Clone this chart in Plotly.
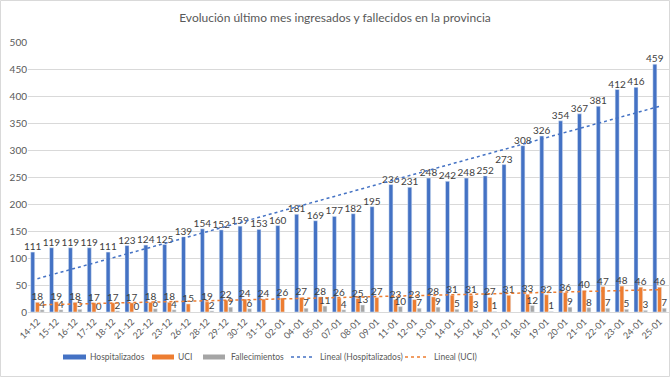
import numpy as np
import plotly.graph_objects as go

categories = ["14-12","15-12","16-12","17-12","18-12","21-12","22-12","23-12","26-12","28-12",
              "29-12","30-12","31-12","02-01","04-01","05-01","07-01","08-01","09-01","11-01",
              "12-01","13-01","14-01","15-01","16-01","17-01","18-01","19-01","20-01","21-01",
              "22-01","23-01","24-01","25-01"]
hospitalizados = [111,119,119,119,111,123,124,125,139,154,152,159,153,160,181,169,177,182,195,236,
                  231,248,242,248,252,273,308,326,354,367,381,412,416,459]
uci = [18,19,18,17,17,17,18,18,15,19,22,24,24,26,27,28,26,25,27,23,
       23,28,31,31,27,31,33,32,36,40,47,48,46,46]
fallecimientos = [4,4,5,0,2,0,6,4,None,2,9,6,None,None,7,11,4,13,None,10,
                  7,9,5,3,1,None,12,1,9,8,7,5,3,7]
legend_labels = ["Hospitalizados", "UCI", "Fallecimientos", "Lineal (Hospitalizados)", "Lineal (UCI)"]

idx = np.arange(len(categories))
ph = np.polyfit(idx, hospitalizados, 1)
pu = np.polyfit(idx, uci, 1)
trend_h = np.polyval(ph, idx)
trend_u = np.polyval(pu, idx)

BLUE = "#4472C4"; ORANGE = "#ED7D31"; GRAY = "#A5A5A5"
TXT = "#404040"; AX = "#595959"
FONT = "Lato"
W, H = 670, 377
ML, MR, MT, MB = 28, 1, 42, 65
PW, PH = W - ML - MR, H - MT - MB

def px_x(px):
    return (px - ML) / PW

def px_y(py):
    return (H - MB - py) / PH

fig = go.Figure()
def bar(name, vals, color):
    fig.add_trace(go.Bar(
        x=categories, y=vals, name=name, marker_color=color,
        text=[("" if v is None else str(v)) for v in vals],
        textposition="outside", textangle=0, constraintext="none",
        cliponaxis=False,
        textfont=dict(family=FONT, size=10, color=TXT),
    ))
bar(legend_labels[0], hospitalizados, BLUE)
bar(legend_labels[1], uci, ORANGE)
bar(legend_labels[2], fallecimientos, GRAY)

fig.add_trace(go.Scatter(x=categories, y=trend_h, mode="lines", name=legend_labels[3],
                         line=dict(color=BLUE, width=1.5, dash="dot")))
fig.add_trace(go.Scatter(x=categories, y=trend_u, mode="lines", name=legend_labels[4],
                         line=dict(color=ORANGE, width=1.5, dash="dot")))

# custom legend (compact, like the original)
leg_items = [(63, 86, 88, "bar", BLUE), (152, 174, 176, "bar", ORANGE), (203, 225, 229, "bar", GRAY),
             (291, 313, 318, "line", BLUE), (405, 427, 432, "line", ORANGE)]
ly = 357
for (s0, s1, t0, kind, col), lab in zip(leg_items, legend_labels):
    if kind == "bar":
        fig.add_shape(type="rect", xref="paper", yref="paper",
                      x0=px_x(s0), x1=px_x(s1), y0=px_y(ly + 2.5), y1=px_y(ly - 2.5),
                      fillcolor=col, line=dict(width=0))
    else:
        fig.add_shape(type="line", xref="paper", yref="paper",
                      x0=px_x(s0), x1=px_x(s1), y0=px_y(ly), y1=px_y(ly),
                      line=dict(color=col, width=1.3, dash="dot"))
    fig.add_annotation(xref="paper", yref="paper", x=px_x(t0), y=px_y(ly),
                       xanchor="left", yanchor="middle", text=lab, showarrow=False,
                       font=dict(family=FONT, size=8.5, color=AX))

fig.update_layout(
    width=W, height=H, autosize=False,
    margin=dict(l=ML, r=MR, t=MT, b=MB, autoexpand=False),
    paper_bgcolor="white", plot_bgcolor="white",
    title=dict(text="Evolución último mes ingresados y fallecidos en la provincia",
               x=0.5, xanchor="center", y=(H - 18) / H, yanchor="middle",
               font=dict(family=FONT, size=12, color=AX)),
    barmode="group", bargap=0.25, bargroupgap=0.15,
    font=dict(family=FONT, color=AX),
    showlegend=False,
)
fig.update_xaxes(type="category", tickangle=-45, tickfont=dict(family=FONT, size=9, color=AX),
                 showline=True, linecolor="#D9D9D9", ticks="", automargin=False)
fig.update_yaxes(range=[0, 500], dtick=50, gridcolor="#D9D9D9", zeroline=False,
                 tickfont=dict(family=FONT, size=10, color=AX), ticks="", automargin=False)
fig.add_shape(type="rect", xref="paper", yref="paper", x0=px_x(0.5), x1=px_x(669.5),
              y0=px_y(376.5), y1=px_y(0.5), line=dict(color="#D9D9D9", width=1), layer="below")

fig.write_html("out.html", config={"displayModeBar": False},
               post_script="document.body.style.margin='0';document.body.style.overflow='hidden';")
